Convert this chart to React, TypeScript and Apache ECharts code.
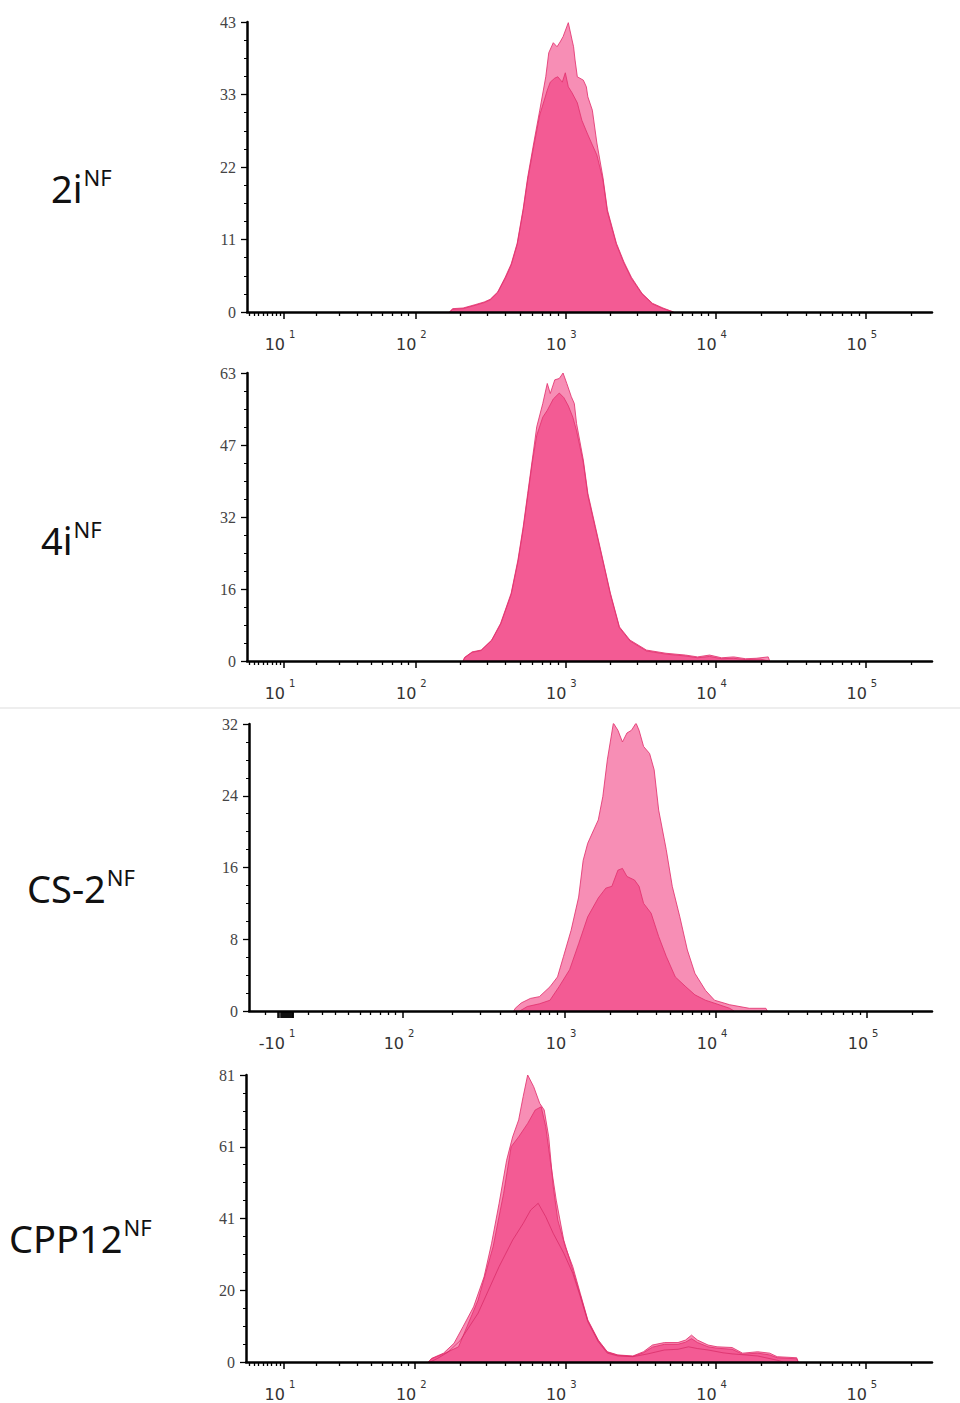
import React, { useEffect, useRef } from "react";
import * as echarts from "echarts";

// x values: display channel, in decades of the cytometer's biexponential scale
// y values: cell count per channel

const panelNames = ["2i", "4i", "CS-2", "CPP12"];
const yMax = [43.4, 63.2, 32, 81.2];
const decadeExps = ["1", "2", "3", "4", "5"];
const decadeBases = [
  ["10", "10", "10", "10", "10"],
  ["10", "10", "10", "10", "10"],
  ["-10", "10", "10", "10", "10"],
  ["10", "10", "10", "10", "10"],
];

const twoI_A: [number, number][] = [
  [2.23, 0], [2.25, 0.5], [2.32, 0.6], [2.4, 1.1], [2.46, 1.5], [2.5, 1.9], [2.55, 3.0], [2.6, 5.2],
  [2.64, 7.2], [2.68, 10.3], [2.72, 15.5], [2.75, 20.2], [2.79, 25.3], [2.83, 30.2], [2.87, 35.2],
  [2.89, 38.8], [2.92, 40.3], [2.945, 39.7], [2.965, 40.4], [2.985, 41.2], [3.02, 43.3], [3.045, 40.7],
  [3.055, 39.7], [3.065, 37.7], [3.08, 35.2], [3.12, 34.7], [3.14, 33.7], [3.15, 32.2], [3.18, 30.2],
  [3.21, 25.3], [3.25, 20.2], [3.28, 15.3], [3.34, 10.3], [3.39, 7.5], [3.44, 5.2], [3.51, 2.8],
  [3.58, 1.3], [3.65, 0.6], [3.72, 0],
];
const twoI_B: [number, number][] = [
  [2.23, 0], [2.25, 0.4], [2.32, 0.5], [2.4, 1.0], [2.46, 1.4], [2.5, 1.8], [2.55, 2.9], [2.6, 5.0],
  [2.64, 7.0], [2.68, 10.1], [2.72, 15.2], [2.75, 19.8], [2.79, 24.8], [2.83, 29.5], [2.86, 31.7],
  [2.88, 33.2], [2.9, 34.4], [2.93, 35.0], [2.95, 35.2], [2.98, 34.4], [3.0, 35.8], [3.02, 33.7],
  [3.045, 32.8], [3.08, 31.3], [3.11, 28.7], [3.145, 26.8], [3.18, 25.0], [3.21, 23.5], [3.25, 19.8],
  [3.28, 15.0], [3.34, 10.1], [3.39, 7.3], [3.44, 5.0], [3.51, 2.7], [3.58, 1.2], [3.65, 0.5], [3.72, 0],
];

const fourI_A: [number, number][] = [
  [2.32, 0], [2.33, 0.8], [2.38, 2.0], [2.44, 2.4], [2.51, 4.6], [2.57, 8.3], [2.64, 14.9], [2.685, 22.2],
  [2.72, 29.5], [2.75, 36.8], [2.78, 44.1], [2.81, 51.4], [2.85, 56.5], [2.88, 60.9], [2.9, 58.7],
  [2.93, 61.7], [2.96, 62.0], [2.985, 63.2], [3.01, 60.9], [3.04, 58.0], [3.06, 56.5], [3.075, 52.1],
  [3.12, 44.1], [3.15, 36.8], [3.2, 29.5], [3.25, 22.2], [3.3, 14.9], [3.36, 7.5], [3.43, 4.6],
  [3.54, 2.4], [3.67, 1.7], [3.8, 1.3], [3.88, 0.9], [3.96, 1.3], [4.04, 0.7], [4.12, 0.9], [4.2, 0.5],
  [4.27, 0.6], [4.35, 0.9], [4.36, 0],
];
const fourI_B: [number, number][] = [
  [2.32, 0], [2.33, 0.7], [2.38, 1.9], [2.44, 2.3], [2.51, 4.5], [2.57, 8.1], [2.64, 14.6], [2.685, 21.8],
  [2.72, 29.0], [2.75, 36.2], [2.78, 43.5], [2.81, 49.5], [2.85, 53.5], [2.88, 55.0], [2.92, 57.5],
  [2.96, 58.8], [2.99, 57.8], [3.02, 56.0], [3.05, 53.5], [3.075, 50.5], [3.12, 43.5], [3.15, 36.3],
  [3.2, 29.1], [3.25, 21.9], [3.3, 14.6], [3.36, 7.3], [3.43, 4.4], [3.54, 2.2], [3.67, 1.5], [3.8, 1.1],
  [3.88, 0.7], [3.96, 1.0], [4.04, 0.5], [4.12, 0.6], [4.2, 0.3], [4.3, 0.4], [4.35, 0],
];

const cs2_A: [number, number][] = [
  [2.66, 0], [2.67, 0.3], [2.71, 0.9], [2.77, 1.4], [2.83, 1.6], [2.9, 2.7], [2.95, 3.8], [2.99, 6.1],
  [3.04, 9.0], [3.09, 12.7], [3.12, 16.8], [3.15, 18.7], [3.19, 20.2], [3.22, 21.3], [3.25, 23.9],
  [3.28, 28.0], [3.32, 32.1], [3.35, 31.3], [3.38, 30.0], [3.41, 31.0], [3.44, 31.3], [3.47, 32.1],
  [3.49, 31.3], [3.52, 29.5], [3.56, 28.7], [3.59, 26.9], [3.62, 22.4], [3.67, 18.0], [3.71, 13.9],
  [3.76, 10.5], [3.81, 6.8], [3.86, 4.2], [3.93, 2.3], [3.99, 1.2], [4.09, 0.7], [4.22, 0.3], [4.33, 0.3],
  [4.34, 0],
];
const cs2_B: [number, number][] = [
  [2.7, 0], [2.75, 0.5], [2.83, 0.8], [2.9, 1.2], [2.96, 2.7], [3.03, 4.6], [3.09, 7.5], [3.15, 10.5],
  [3.22, 12.6], [3.27, 13.7], [3.31, 13.9], [3.35, 15.7], [3.38, 15.9], [3.41, 15.0], [3.46, 14.6],
  [3.49, 13.9], [3.52, 12.0], [3.57, 10.9], [3.62, 8.3], [3.67, 6.1], [3.73, 3.8], [3.8, 2.7], [3.86, 1.8],
  [3.93, 1.2], [4.02, 0.7], [4.09, 0.3], [4.12, 0],
];

const cpp12_A: [number, number][] = [
  [2.09, 0], [2.11, 1.0], [2.19, 2.5], [2.26, 5.3], [2.32, 10.0], [2.39, 15.6], [2.46, 24.1], [2.51, 33.6],
  [2.56, 44.9], [2.61, 57.1], [2.65, 63.7], [2.69, 68.5], [2.72, 75.1], [2.75, 81.2], [2.79, 77.9],
  [2.83, 73.2], [2.86, 71.3], [2.89, 63.7], [2.92, 49.6], [2.95, 40.2], [3.0, 32.6], [3.05, 27.0],
  [3.1, 19.4], [3.15, 11.9], [3.22, 6.2], [3.28, 2.9], [3.35, 2.0], [3.45, 1.7], [3.52, 2.9], [3.58, 4.8],
  [3.66, 5.5], [3.75, 5.5], [3.8, 6.2], [3.84, 7.6], [3.88, 6.2], [3.95, 4.8], [4.01, 4.3], [4.11, 4.1],
  [4.18, 2.5], [4.28, 2.9], [4.36, 2.5], [4.41, 1.5], [4.54, 1.2], [4.55, 0],
];
const cpp12_B: [number, number][] = [
  [2.09, 0], [2.11, 0.9], [2.19, 2.3], [2.29, 4.3], [2.42, 17.5], [2.52, 32.6], [2.59, 47.7], [2.64, 60.9],
  [2.69, 63.7], [2.75, 67.5], [2.8, 71.3], [2.84, 72.2], [2.87, 66.6], [2.9, 57.1], [2.94, 45.8],
  [2.99, 34.5], [3.05, 26.0], [3.1, 19.0], [3.15, 11.7], [3.22, 6.0], [3.28, 2.8], [3.35, 1.9], [3.45, 1.6],
  [3.52, 2.6], [3.58, 4.2], [3.66, 5.0], [3.75, 5.0], [3.8, 5.6], [3.84, 6.6], [3.88, 5.5], [3.95, 4.3],
  [4.01, 3.9], [4.11, 3.6], [4.18, 2.2], [4.28, 2.5], [4.36, 2.0], [4.41, 1.2], [4.54, 0.9], [4.55, 0],
];
const cpp12_C: [number, number][] = [
  [2.1, 0], [2.15, 1.0], [2.22, 2.8], [2.3, 6.0], [2.42, 13.8], [2.56, 27.0], [2.65, 34.5], [2.72, 39.2],
  [2.77, 43.0], [2.82, 44.9], [2.87, 41.1], [2.92, 36.4], [2.99, 30.8], [3.05, 25.1], [3.1, 18.5],
  [3.15, 11.4], [3.22, 5.7], [3.28, 2.5], [3.35, 1.7], [3.45, 1.5], [3.55, 2.3], [3.66, 3.4], [3.75, 3.6],
  [3.82, 4.3], [3.88, 3.8], [3.95, 3.4], [4.05, 2.6], [4.11, 2.3], [4.28, 1.7], [4.41, 0.5], [4.45, 0],
];

const panelSeries = [
  [twoI_A, twoI_B],
  [fourI_A, fourI_B],
  [cs2_A, cs2_B],
  [cpp12_A, cpp12_B, cpp12_C],
];
// series drawn only as an outline (its fill coincides with the darker overlap)
const outlineOnly = [
  [false, false],
  [false, false],
  [false, false],
  [false, false, true],
];

// ---- layout / scale configuration ----
const grids = [
  { left: 247, top: 22, width: 685, height: 290 },
  { left: 247, top: 373, width: 685, height: 288 },
  { left: 249, top: 724, width: 683, height: 287 },
  { left: 246, top: 1075, width: 686, height: 287 },
];
const xRange = [
  [0.882, 5.44],
  [0.882, 5.44],
  [0.907, 5.43],
  [0.876, 5.44],
];
const labelPos = [
  { x: 51, y: 188 },
  { x: 41, y: 540 },
  { x: 27, y: 888 },
  { x: 9, y: 1238 },
];

function biex(v: number) {
  return Math.log10((v + Math.sqrt(v * v + 185)) / 2);
}

function tickSets(i: number) {
  const [mn, mx] = xRange[i];
  let major: number[] = [];
  let minor: number[] = [];
  let labels: number[] = [];
  if (i !== 2) {
    labels = [10, 100, 1000, 10000, 100000].map(biex);
    major = labels.slice();
    for (let n = 0; n <= 5; n++) {
      for (let k = 2; k <= 9; k++) {
        const u = biex(k * Math.pow(10, n));
        if (u > mn && u < mx) minor.push(u);
      }
    }
  } else {
    labels = [1.199, 1.927, 3, 4, 5];
    major = labels.slice();
    for (let j = 0; j <= 14; j++) major.push(1.1 + j * 0.007);
    minor = [1.013, 1.298, 1.391, 1.477, 1.563, 1.642, 1.709, 1.775, 1.828, 1.874];
    for (let k = 2; k <= 9; k++) minor.push(1.927 + Math.log10(k) * 1.073);
    for (let n = 3; n <= 5; n++) {
      for (let k = 2; k <= 9; k++) {
        const u = n + Math.log10(k);
        if (u < mx) minor.push(u);
      }
    }
  }
  return { major, minor, labels };
}

const AXIS = "#000";
const TEXT = "#333";

export default function App() {
  const ref = useRef<HTMLDivElement>(null);
  useEffect(() => {
    if (!ref.current) return;
    const chart = echarts.init(ref.current, undefined, { renderer: "svg" });

    const xAxis: any[] = [];
    const yAxis: any[] = [];
    const series: any[] = [];
    const graphic: any[] = [];

    grids.forEach((g, i) => {
      const { major, minor, labels } = tickSets(i);
      const [mn, mx] = xRange[i];
      xAxis.push({
        type: "value",
        gridIndex: i,
        min: mn,
        max: mx,
        position: "bottom",
        z: 5,
        axisLine: { show: true, onZero: false, lineStyle: { color: AXIS, width: 2.5 } },
        axisTick: { show: true, customValues: major, length: 7, lineStyle: { color: AXIS, width: 1.5 } },
        axisLabel: {
          show: true,
          customValues: labels,
          margin: 17,
          padding: [0, 8, 0, 0],
          formatter: (v: number) => {
            let best = 0;
            labels.forEach((l, j) => {
              if (Math.abs(l - v) < Math.abs(labels[best] - v)) best = j;
            });
            const base = decadeBases[i][best];
            const gap = base.startsWith("-") ? "{g|}" : "";
            return `{b|${base}}{s|${decadeExps[best]}}${gap}`;
          },
          rich: {
            b: { fontSize: 16, fontFamily: "DejaVu Sans", color: TEXT, lineHeight: 31 },
            s: { fontSize: 10, fontFamily: "DejaVu Sans", color: TEXT, verticalAlign: "top", lineHeight: 12, padding: [0, 0, 0, 4] },
            g: { width: 24 },
          },
        },
        splitLine: { show: false },
      });
      xAxis.push({
        type: "value",
        gridIndex: i,
        min: mn,
        max: mx,
        position: "bottom",
        z: 5,
        axisLine: { show: false },
        axisTick: { show: true, customValues: minor, length: 4, lineStyle: { color: AXIS, width: 1.3 } },
        axisLabel: { show: false },
        splitLine: { show: false },
      });
      yAxis.push({
        type: "value",
        gridIndex: i,
        min: 0,
        max: yMax[i],
        interval: yMax[i] / 4,
        z: 5,
        axisLine: { show: true, lineStyle: { color: AXIS, width: 2.5 } },
        axisTick: { show: true, length: 6, lineStyle: { color: AXIS, width: 1.3 } },
        minorTick: { show: true, splitNumber: 4, length: 3, lineStyle: { color: AXIS, width: 1 } },
        axisLabel: {
          margin: 11,
          fontSize: 16,
          fontFamily: "Liberation Serif",
          color: "#444",
          formatter: (v: number) => String(Math.round(v)),
        },
        splitLine: { show: false },
      });
      panelSeries[i].forEach((d, k) => {
        const onlyLine = outlineOnly[i][k];
        series.push({
          type: "line",
          name: `${panelNames[i]} ${k + 1}`,
          xAxisIndex: 2 * i,
          yAxisIndex: i,
          data: d,
          symbol: "none",
          showSymbol: false,
          z: 2,
          lineStyle: { color: onlyLine ? "rgba(214,40,100,0.7)" : "rgba(226,52,112,0.85)", width: 1 },
          areaStyle: { color: "rgba(240,50,120,0.55)", opacity: onlyLine ? 0 : 1 },
        });
      });
      graphic.push({
        type: "text",
        x: labelPos[i].x,
        y: labelPos[i].y,
        style: {
          text: `{a|${panelNames[i]}}{b|NF}`,
          verticalAlign: "middle",
          rich: {
            a: { fontSize: 38, fontFamily: "Noto Sans", fill: "#111", lineHeight: 44 },
            b: { fontSize: 22, fontFamily: "Noto Sans", fill: "#111", verticalAlign: "top", padding: [0, 0, 0, 1] },
          },
        },
      });
    });

    graphic.push({
      type: "rect",
      shape: { x: 0, y: 707, width: 960, height: 2 },
      style: { fill: "#eeeeee" },
      z: -1,
    });

    chart.setOption({
      animation: false,
      backgroundColor: "#fff",
      grid: grids.map((g) => ({ ...g, containLabel: false })),
      xAxis,
      yAxis,
      series,
      graphic,
    });
    return () => chart.dispose();
  }, []);

  return (
    <div
      ref={ref}
      style={{ position: "absolute", left: 0, top: 0, width: 960, height: 1403 }}
    />
  );
}
